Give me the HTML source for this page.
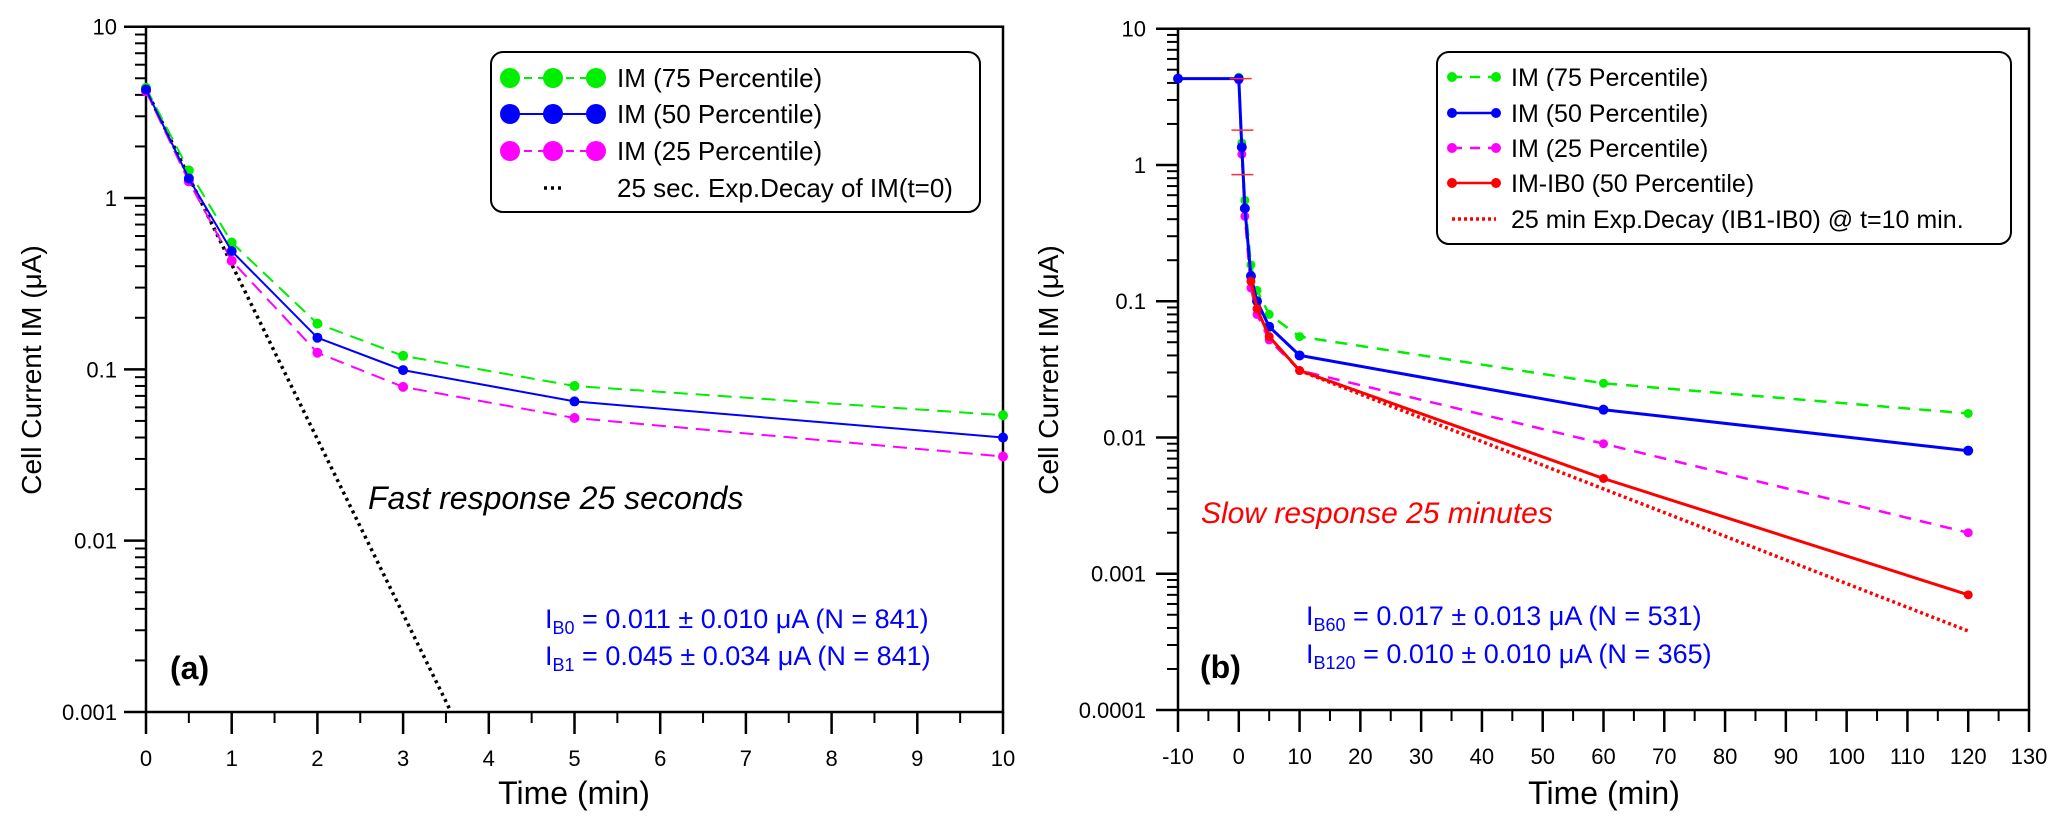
<!DOCTYPE html>
<html><head><meta charset="utf-8"><style>
html,body{margin:0;padding:0;background:#fff;}
svg{display:block;font-family:"Liberation Sans",Arial,sans-serif;}
</style></head><body>
<svg id="chart" width="2067" height="828" viewBox="0 0 2067 828" xmlns="http://www.w3.org/2000/svg"></svg>
<script>
// ---- Panel (a) data ----
const aTimes = [0, 0.5, 1, 2, 3, 5, 10];
const a75 = [4.4, 1.45, 0.55, 0.185, 0.12, 0.08, 0.054];
const a50 = [4.3, 1.3, 0.49, 0.153, 0.099, 0.065, 0.040];
const a25 = [4.2, 1.25, 0.43, 0.125, 0.079, 0.052, 0.031];
const aDecayT = [0, 3.56];
const aDecayV = [4.3, 0.001];
const aXTicks = [0,1,2,3,4,5,6,7,8,9,10];
const yTicksA = ["10","1","0.1","0.01","0.001"];
// ---- Panel (b) data ----
const bTimes50 = [-10, 0, 0.5, 1, 2, 3, 5, 10, 60, 120];
const b50 = [4.3, 4.3, 1.35, 0.48, 0.153, 0.1, 0.065, 0.040, 0.016, 0.008];
const bTimes = [0, 0.5, 1, 2, 3, 5, 10, 60, 120];
const b75 = [4.4, 1.45, 0.55, 0.185, 0.12, 0.08, 0.055, 0.025, 0.015];
const b25 = [4.2, 1.2, 0.42, 0.125, 0.08, 0.052, 0.031, 0.009, 0.002];
const bRedT = [2, 3, 5, 10, 60, 120];
const bRed = [0.14, 0.088, 0.055, 0.031, 0.005, 0.0007];
const bDecayT = [10, 120];
const bDecayV = [0.031, 0.00038];
const bErrT = [0.6, 0.6, 0.3];
const bErrV = [1.8, 0.85, 4.3];
const bXTicks = [-10,0,10,20,30,40,50,60,70,80,90,100,110,120,130];
const yTicksB = ["10","1","0.1","0.01","0.001","0.0001"];

const NS = "http://www.w3.org/2000/svg";
const svg = document.getElementById("chart");
function el(tag, attrs, parent, text){
  const e = document.createElementNS(NS, tag);
  for (const k in attrs) e.setAttribute(k, attrs[k]);
  if (text !== undefined) e.textContent = text;
  (parent || svg).appendChild(e);
  return e;
}

// axis factories
function makeAxes(x0, x1, xmin, xmax, yTop, yBot, ymaxExp, decades){
  const xs = v => x0 + (v - xmin) / (xmax - xmin) * (x1 - x0);
  const dec = (yBot - yTop) / decades;
  const ys = v => yTop + (ymaxExp - Math.log10(v)) * dec;
  return {xs, ys, dec};
}

const A = makeAxes(146, 1003, 0, 10, 26.7, 712, 1, 4);
const B = makeAxes(1178, 2029, -10, 130, 28.7, 710, 1, 5);

function frame(g, x0, x1, yTop, yBot, name){
  const f = el("g", {}, g);
  
  
  el("rect", {x:x0, y:yTop, width:x1-x0, height:yBot-yTop, fill:"none", stroke:"#000", "stroke-width":2.5}, f);
}

function yAxis(g, ax, x0, yTop, decades, labels, labelRight, name){
  const ga = el("g", {}, g);
  
  
  for (let d = 0; d <= decades; d++){
    const y = yTop + d * ax.dec;
    el("line", {x1:x0-22, y1:y, x2:x0, y2:y, stroke:"#000", "stroke-width":2.5}, ga);
    const t = el("text", {x:labelRight, y:y+8, "text-anchor":"end", "font-size":22, fill:"#000"}, ga, labels[d]);
    
    
    if (d < decades){
      for (let m = 2; m <= 9; m++){
        const ym = y + ax.dec - Math.log10(m) * ax.dec;
        el("line", {x1:x0-11, y1:ym, x2:x0, y2:ym, stroke:"#000", "stroke-width":2}, ga);
      }
    }
  }
}

function xAxis(g, ax, ticks, minorStep, yBot, name){
  const ga = el("g", {}, g);
  
  
  ticks.forEach((v, i) => {
    const x = ax.xs(v);
    el("line", {x1:x, y1:yBot, x2:x, y2:yBot+22, stroke:"#000", "stroke-width":2.5}, ga);
    const t = el("text", {x:x, y:yBot+54, "text-anchor":"middle", "font-size":22, fill:"#000"}, ga, String(v));
    
    
    if (i < ticks.length - 1){
      const xm = ax.xs(v + minorStep);
      el("line", {x1:xm, y1:yBot, x2:xm, y2:yBot+11, stroke:"#000", "stroke-width":2}, ga);
    }
  });
}

function series(g, ax, ts, vs, color, width, dash, r, name){
  const gs = el("g", {}, g);
  
  
  const pts = ts.map((t, i) => ax.xs(t).toFixed(1) + "," + ax.ys(vs[i]).toFixed(1)).join(" ");
  const attrs = {points:pts, fill:"none", stroke:color, "stroke-width":width, "stroke-linejoin":"round"};
  if (dash) attrs["stroke-dasharray"] = dash;
  el("polyline", attrs, gs);
  if (r > 0){
    ts.forEach((t, i) => {
      const c = el("circle", {cx:ax.xs(t), cy:ax.ys(vs[i]), r:r, fill:color}, gs);
      
      
    });
  }
}

// ================= Panel (a) =================
const ga = el("g", {});


frame(ga, 146, 1003, 26.7, 712, 'plot-frame-a');
yAxis(ga, A, 146, 26.7, 4, yTicksA, 117, 'y-axis-a');
xAxis(ga, A, aXTicks, 0.5, 712, 'x-axis-a');
series(ga, A, aDecayT, aDecayV, "#000", 3.5, "3,4", 0, 'decay-line-a');
series(ga, A, aTimes, a75, "#00ee00", 2, "14,8", 5, 'series-75-a');
series(ga, A, aTimes, a25, "#ff00ff", 2, "14,8", 5, 'series-25-a');
series(ga, A, aTimes, a50, "#0000ff", 2, null, 5, 'series-50-a');

let t;
t = el("text", {x:0, y:0, "font-size":28, "text-anchor":"middle", transform:"translate(41,370) rotate(-90)"}, ga, "Cell Current IM (μA)");
 
t = el("text", {x:574, y:804, "font-size":32, "text-anchor":"middle"}, ga, "Time (min)");
 
t = el("text", {x:368, y:509, "font-size":32, "font-style":"italic"}, ga, "Fast response 25 seconds");
 
t = el("text", {x:170, y:679, "font-size":32, "font-weight":"bold"}, ga, "(a)");
 
t = el("text", {x:545, y:628, "font-size":27, fill:"#0000ff"}, ga);
t.innerHTML = 'I<tspan font-size="18" dy="6">B0</tspan><tspan dy="-6"> = 0.011 ± 0.010 μA (N = 841)</tspan>';
 
t = el("text", {x:545, y:665, "font-size":27, fill:"#0000ff"}, ga);
t.innerHTML = 'I<tspan font-size="18" dy="6">B1</tspan><tspan dy="-6"> = 0.045 ± 0.034 μA (N = 841)</tspan>';
 

// legend a
const la = el("g", {}, ga);


el("rect", {x:491, y:52, width:489, height:160, rx:12, fill:"#fff", stroke:"#000", "stroke-width":2}, la);
const legA = [["IM (75 Percentile)", "#00ee00", "8,6", 10], ["IM (50 Percentile)", "#0000ff", null, 10], ["IM (25 Percentile)", "#ff00ff", "8,6", 10], ["25 sec. Exp.Decay of IM(t=0)", "#000", null, 0]];
const legAY = [78, 114, 151, 188];
legA.forEach((e, i) => {
  const y = legAY[i];
  const gi = el("g", {}, la);
  
  
  if (e[3] > 0){
    const at = {x1:510, y1:y, x2:596, y2:y, stroke:e[1], "stroke-width":2};
    if (e[2]) at["stroke-dasharray"] = e[2];
    el("line", at, gi);
    [510, 553, 596].forEach(cx => el("circle", {cx:cx, cy:y, r:10, fill:e[1]}, gi));
  } else {
    el("line", {x1:544, y1:y, x2:562, y2:y, stroke:"#000", "stroke-width":3.5, "stroke-dasharray":"3,4"}, gi);
  }
  el("text", {x:617, y:y+9, "font-size":26}, gi, e[0]);
});

// ================= Panel (b) =================
const gb = el("g", {});


frame(gb, 1178, 2029, 28.7, 710, 'plot-frame-b');
yAxis(gb, B, 1178, 28.7, 5, yTicksB, 1146, 'y-axis-b');
xAxis(gb, B, bXTicks, 5, 710, 'x-axis-b');
series(gb, B, bDecayT, bDecayV, "#ff0000", 3.5, "3,3", 0, 'decay-line-b');
series(gb, B, bTimes, b75, "#00ee00", 2.5, "12,9", 4.5, 'series-75-b');
series(gb, B, bTimes, b25, "#ff00ff", 2.5, "12,9", 4.5, 'series-25-b');
series(gb, B, bTimes50, b50, "#0000ff", 3, null, 5, 'series-50-b');
series(gb, B, bRedT, bRed, "#ff0000", 3, null, 4.5, 'series-ib0-b');
const eb = el("g", {}, gb);


bErrV.forEach((v, i) => {
  const x = B.xs(bErrT[i]), y = B.ys(v);
  el("line", {x1:x-11, y1:y, x2:x+11, y2:y, stroke:"#ff3030", "stroke-width":1.5}, eb);
});

t = el("text", {x:0, y:0, "font-size":28, "text-anchor":"middle", transform:"translate(1058,370) rotate(-90)"}, gb, "Cell Current IM (μA)");
 
t = el("text", {x:1604, y:804, "font-size":32, "text-anchor":"middle"}, gb, "Time (min)");
 
t = el("text", {x:1201, y:523, "font-size":30, "font-style":"italic", fill:"#ff0000"}, gb, "Slow response 25 minutes");
 
t = el("text", {x:1200, y:678, "font-size":32, "font-weight":"bold"}, gb, "(b)");
 
t = el("text", {x:1306, y:625, "font-size":27, fill:"#0000ff"}, gb);
t.innerHTML = 'I<tspan font-size="18" dy="6">B60</tspan><tspan dy="-6">   = 0.017 ± 0.013 μA (N = 531)</tspan>';
 
t = el("text", {x:1306, y:663, "font-size":27, fill:"#0000ff"}, gb);
t.innerHTML = 'I<tspan font-size="18" dy="6">B120</tspan><tspan dy="-6"> = 0.010 ± 0.010 μA (N = 365)</tspan>';
 

const lb = el("g", {}, gb);


el("rect", {x:1437, y:52, width:574, height:192, rx:12, fill:"#fff", stroke:"#000", "stroke-width":2}, lb);
const legB = [["IM (75 Percentile)", "#00ee00", "10,8", 5], ["IM (50 Percentile)", "#0000ff", null, 5], ["IM (25 Percentile)", "#ff00ff", "10,8", 5], ["IM-IB0 (50 Percentile)", "#ff0000", null, 5], ["25 min Exp.Decay (IB1-IB0) @ t=10 min.", "#ff0000", "3,3", 0]];
const legBY = [77, 113, 148, 183, 219];
legB.forEach((e, i) => {
  const y = legBY[i];
  const gi = el("g", {}, lb);
  
  
  const at = {x1:1452, y1:y, x2:1496, y2:y, stroke:e[1], "stroke-width":e[3] ? 2.5 : 3.5};
  if (e[2]) at["stroke-dasharray"] = e[2];
  el("line", at, gi);
  if (e[3] > 0){
    el("circle", {cx:1452, cy:y, r:5, fill:e[1]}, gi);
    el("circle", {cx:1496, cy:y, r:5, fill:e[1]}, gi);
  }
  el("text", {x:1511, y:y+9, "font-size":25}, gi, e[0]);
});
</script>
</body></html>
